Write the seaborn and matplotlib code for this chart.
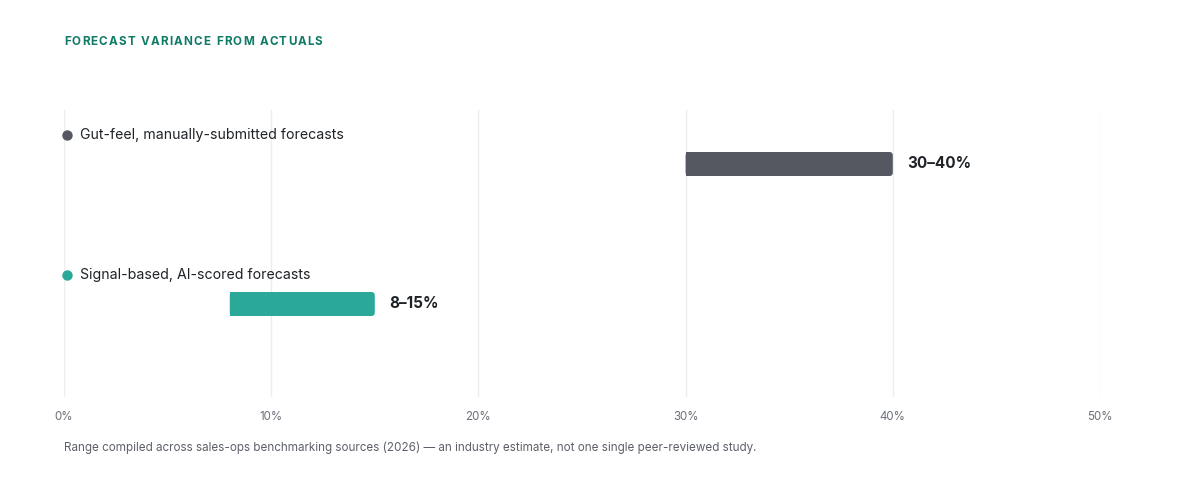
import pandas as pd
import seaborn as sns
import matplotlib.pyplot as plt
from matplotlib.patches import FancyBboxPatch, Rectangle

# Chart data
labels = ["Gut-feel, manually-submitted forecasts", "Signal-based, AI-scored forecasts"]
low = [30, 8]
high = [40, 15]
value_text = ["30\u201340%", "8\u201315%"]
colors = ["#555861", "#2aa898"]
x_ticks = [0, 10, 20, 30, 40, 50]
title = "FORECAST VARIANCE FROM ACTUALS"
note = ("Range compiled across sales-ops benchmarking sources (2026) \u2014 "
        "an industry estimate, not one single peer-reviewed study.")

df = pd.DataFrame({"label": labels, "low": low, "high": high})
df["span"] = df["high"] - df["low"]

sns.set_theme(style="white")
plt.rcParams["font.family"] = ["Inter", "DejaVu Sans"]

fig = plt.figure(figsize=(12, 4.8), dpi=100)
ax = fig.add_axes([64 / 1200, 1 - 397 / 480, (1100 - 64) / 1200, 287 / 480])

bar_h = 24 / 140
sns.barplot(data=df, x="span", y="label", left=df["low"], orient="h",
            width=bar_h, color=colors[0], ax=ax)

ax.set_xlim(0, 50)
ax.set_ylim(1 + 93 / 140, -54 / 140)

# px per data unit, to keep corner rounding circular
px_x = (1100 - 64) / 50
px_y = 140
radius = 3.5 / px_x

for i, patch in enumerate(list(ax.patches)):
    x0, y0 = patch.get_x(), patch.get_y()
    w, h = patch.get_width(), patch.get_height()
    patch.remove()
    ax.add_patch(FancyBboxPatch((x0, y0), w, h,
                                boxstyle=f"round,pad=0,rounding_size={radius}",
                                mutation_aspect=px_x / px_y,
                                facecolor=colors[i], edgecolor="none", zorder=3))
    ax.add_patch(Rectangle((x0, y0), w / 2, h, facecolor=colors[i],
                           edgecolor="none", zorder=3))
    # value label
    ax.annotate(value_text[i], xy=(x0 + w, i), xytext=(14, 0),
                textcoords="offset pixels", ha="left", va="center",
                fontsize=11, fontweight="bold", color="#1f2328")
    # category label with dot
    ax.annotate(labels[i], xy=(0, i - 29 / 140), xytext=(16, 0),
                textcoords="offset pixels", ha="left", va="center",
                fontsize=10.2, color="#1f2328", annotation_clip=False)
    ax.scatter([3 / px_x], [i - 29 / 140], s=42, color=colors[i], zorder=4,
               clip_on=False)

ax.set_xticks(x_ticks)
ax.set_xticklabels([f"{t}%" for t in x_ticks], fontsize=8.3, color="#6b7079")
ax.set_yticks([])
ax.set_xlabel("")
ax.set_ylabel("")
ax.tick_params(axis="x", length=0, pad=10)
ax.grid(axis="x", color="#ececec", linewidth=1)
ax.set_axisbelow(True)
for s in ax.spines.values():
    s.set_visible(False)

# letter-spaced title
renderer = fig.canvas.get_renderer()
xpos = 64.0
for ch in title:
    if ch == " ":
        xpos += 4.6
        continue
    t = fig.text(xpos / 1200, 1 - 42 / 480, ch, fontsize=8.4, fontweight="bold",
                 color="#0f7a66", va="center", ha="left")
    xpos += t.get_window_extent(renderer).width + 1.15

fig.text(64 / 1200, 1 - 448 / 480, note,
         fontsize=8.4, color="#5c6068", va="center", ha="left")

fig.savefig("out.png", dpi=100)
